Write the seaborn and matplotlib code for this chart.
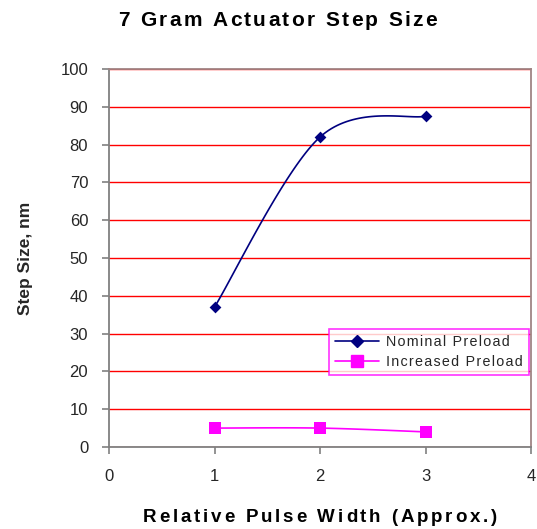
import numpy as np
import pandas as pd
import matplotlib
matplotlib.use("Agg")
import matplotlib.pyplot as plt
import seaborn as sns
from matplotlib.font_manager import FontProperties, findfont
from matplotlib.ft2font import FT2Font

pulse_width = [1, 2, 3]
nominal_preload = [37, 82, 87.5]
increased_preload = [5, 5, 4]
series_names = ["Nominal Preload", "Increased Preload"]
x_ticks = [0, 1, 2, 3, 4]
y_ticks = [0, 10, 20, 30, 40, 50, 60, 70, 80, 90, 100]
title_text = "7 Gram Actuator Step Size"
x_label = "Relative Pulse Width (Approx.)"
y_label = "Step Size, nm"

W, H, DPI = 537, 529, 100


def smooth(xs, ys, n=40):
    """Excel-style smoothed line (Catmull-Rom Bezier) through the given points."""
    xs = np.asarray(xs, float)
    ys = np.asarray(ys, float)
    P = np.column_stack([xs, ys])
    Pe = np.vstack([P[0], P, P[-1]])
    out = []
    t = np.linspace(0, 1, n)[:, None]
    for i in range(1, len(Pe) - 2):
        p0, p1, p2, p3 = Pe[i - 1], Pe[i], Pe[i + 1], Pe[i + 2]
        c1 = p1 + (p2 - p0) / 6
        c2 = p2 - (p3 - p1) / 6
        seg = ((1 - t) ** 3) * p1 + 3 * ((1 - t) ** 2) * t * c1 + 3 * (1 - t) * t ** 2 * c2 + t ** 3 * p2
        out.append(seg if i == 1 else seg[1:])
    arr = np.vstack(out)
    return arr[:, 0], arr[:, 1]


def tracked_text(fig, s, x0, x1, baseline, size, weight="bold"):
    """Draw text letter-spaced to fill pixels x0..x1 with given baseline (pixels from top)."""
    prop = FontProperties(family="Liberation Sans", weight=weight, size=size)
    font = FT2Font(findfont(prop))
    font.set_size(size, DPI)
    adv = []
    for ch in s:
        g = font.load_char(ord(ch))
        adv.append(g.linearHoriAdvance / 65536.0)
    natural = sum(adv[:-1])
    last = adv[-1]
    track = (x1 - x0 - natural - last) / (len(s) - 1)
    x = x0
    for ch, a in zip(s, adv):
        if ch != " ":
            fig.text(x / W, 1 - baseline / H, ch, fontproperties=prop, ha="left", va="baseline", color="black")
        x += a + track


HAIR = "\u200a"

sns.set_theme(style="white")
plt.rcParams["font.family"] = ["Liberation Sans", "DejaVu Sans"]

fig = plt.figure(figsize=(W / DPI, H / DPI), dpi=DPI)
ax = fig.add_axes([109 / W, 1 - 447 / H, (531 - 109) / W, (447 - 69) / H])

colors = ["#000080", "#FF00FF"]
markers = ["D", "s"]
msizes = [6, 8]
for name, vals, c, m, ms in zip(series_names, [nominal_preload, increased_preload], colors, markers, msizes):
    sx, sy = smooth(pulse_width, vals)
    sns.lineplot(x=sx, y=sy, ax=ax, color=c, linewidth=1.2, sort=False, estimator=None)
    ax.plot([], [], color=c, marker=m, markersize=ms, linewidth=1.2, label=HAIR.join(name))
    sns.scatterplot(x=pulse_width, y=vals, ax=ax, color=c, marker=m, s=ms ** 2, edgecolor=c, linewidth=0, zorder=5)

ax.set_xlim(0, 4)
ax.set_ylim(0, 100)
ax.set_xticks(x_ticks)
ax.set_yticks(y_ticks)
ax.set_xticklabels([str(v) for v in x_ticks], fontsize=12)
ax.set_yticklabels([str(v) for v in y_ticks], fontsize=12)
ax.tick_params(axis="both", direction="out", length=5, width=1.2, color="#808080", left=True, bottom=True)
ax.tick_params(axis="x", pad=11)
ax.tick_params(axis="y", pad=10)
ax.yaxis.grid(True, color="#FF0000", linewidth=1.0)
ax.xaxis.grid(False)
ax.set_axisbelow(True)
for side in ["left", "bottom"]:
    ax.spines[side].set_color("#808080")
    ax.spines[side].set_linewidth(1.3)
for side in ["top", "right"]:
    ax.spines[side].set_color("#A08585")
    ax.spines[side].set_linewidth(1.3)

ax.set_xlabel("")
ax.set_ylabel(y_label, fontsize=12.5, fontweight="bold", labelpad=20)

tracked_text(fig, title_text, 118, 437, 26.5, 15)
tracked_text(fig, x_label, 143, 497, 522, 13.5)

leg = ax.legend(loc="lower right", bbox_to_anchor=(0.995, 0.19), fontsize=10.3, frameon=True, fancybox=False,
                borderpad=0.4, handlelength=3.1, labelspacing=0.45, handletextpad=0.5, borderaxespad=0)
leg.get_frame().set_edgecolor("#FF00FF")
leg.get_frame().set_linewidth(1.2)

fig.savefig("out.png", dpi=DPI)
